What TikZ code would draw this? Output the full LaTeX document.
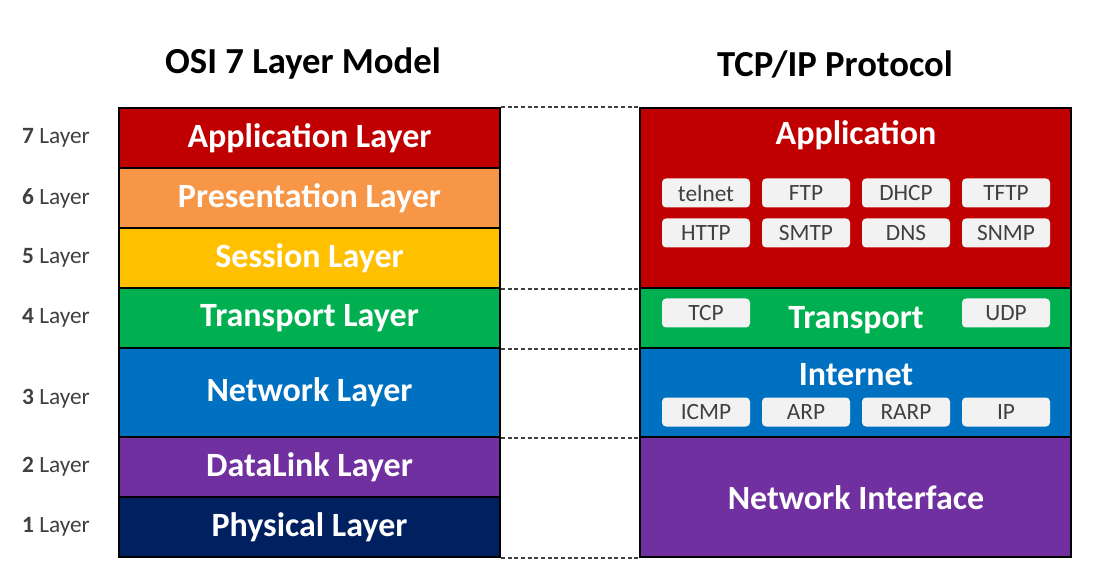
\documentclass[tikz,border=0pt]{standalone}
\usepackage{fontspec}
\setmainfont{Carlito}
\definecolor{cApp}{HTML}{C00000}
\definecolor{cPre}{HTML}{F79646}
\definecolor{cSes}{HTML}{FFC000}
\definecolor{cTra}{HTML}{00B050}
\definecolor{cNet}{HTML}{0070C0}
\definecolor{cDat}{HTML}{7030A0}
\definecolor{cPhy}{HTML}{002060}
\definecolor{cTag}{HTML}{F2F2F2}
\definecolor{cTagText}{HTML}{404040}
\definecolor{cLabel}{HTML}{404040}
\tikzset{
  layerbox/.style={draw=black, line width=1.5pt, inner sep=0pt, minimum width=285.75pt, text=white, font=\fontsize{25.5}{28}\selectfont\bfseries},
  tcpbox/.style={draw=black, line width=1.5pt, inner sep=0pt, minimum width=323.25pt},
  boxtitle/.style={text=white, inner sep=0pt, font=\fontsize{25.5}{28}\selectfont\bfseries},
  tag/.style={fill=cTag, rounded corners=3pt, minimum width=66pt, minimum height=21.75pt, inner sep=0pt, text=cTagText, font=\fontsize{17.5}{20}\selectfont},
  lbl/.style={text=cLabel, inner sep=0pt, font=\fontsize{17.5}{20}\selectfont},
  title/.style={text=black, inner sep=0pt, font=\fontsize{27.5}{30}\selectfont\bfseries},
  gap/.style={draw=black!75, line width=0.9pt, dash pattern=on 3pt off 2pt}
}
\begin{document}
\begin{tikzpicture}[x=0.75pt, y=-0.75pt]
\useasboundingbox[fill=white] (0,0) rectangle (1096,577);
% titles
\node[title] (t1) at (303,64) {OSI 7 Layer Model};
\node[title] (t2) at (835,64) {TCP/IP Protocol};
% OSI layers
\node[layerbox, fill=cApp, minimum height=45pt] (L7) at (309.5,138) {Application Layer};
\node[layerbox, fill=cPre, minimum height=45pt] (L6) at (309.5,198) {Presentation Layer};
\node[layerbox, fill=cSes, minimum height=45pt] (L5) at (309.5,258) {Session Layer};
\node[layerbox, fill=cTra, minimum height=45pt] (L4) at (309.5,318) {Transport Layer};
\node[layerbox, fill=cNet, minimum height=66.75pt] (L3) at (309.5,392.5) {Network Layer};
\node[layerbox, fill=cDat, minimum height=45pt] (L2) at (309.5,467) {DataLink Layer};
\node[layerbox, fill=cPhy, minimum height=45pt] (L1) at (309.5,527) {Physical Layer};
% layer numbers
\node[lbl] (n7) at (56,138) {\textbf{7} Layer};
\node[lbl] (n6) at (56,198) {\textbf{6} Layer};
\node[lbl] (n5) at (56,258) {\textbf{5} Layer};
\node[lbl] (n4) at (56,318) {\textbf{4} Layer};
\node[lbl] (n3) at (56,399) {\textbf{3} Layer};
\node[lbl] (n2) at (56,467) {\textbf{2} Layer};
\node[lbl] (n1) at (56,527) {\textbf{1} Layer};
% TCP/IP boxes
\node[tcpbox, fill=cApp, minimum height=135pt] (RA) at (855.5,198) {};
\node[tcpbox, fill=cTra, minimum height=45pt] (RT) at (855.5,318) {};
\node[tcpbox, fill=cNet, minimum height=66.75pt] (RI) at (855.5,392.5) {};
\node[tcpbox, fill=cDat, minimum height=90pt] (RN) at (855.5,497) {};
\node[boxtitle] (RAt) at (856,135) {Application};
\node[boxtitle] (RTt) at (856,320) {Transport};
\node[boxtitle] (RIt) at (856,375) {Internet};
\node[boxtitle] (RNt) at (856,498) {Network Interface};
% tags
\node[tag] (telnet) at (706,193) {telnet};
\node[tag] (ftp) at (806,193) {FTP};
\node[tag] (dhcp) at (906,193) {DHCP};
\node[tag] (tftp) at (1006,193) {TFTP};
\node[tag] (http) at (706,233) {HTTP};
\node[tag] (smtp) at (806,233) {SMTP};
\node[tag] (dns) at (906,233) {DNS};
\node[tag] (snmp) at (1006,233) {SNMP};
\node[tag] (tcp) at (706,313) {TCP};
\node[tag] (udp) at (1006,313) {UDP};
\node[tag] (icmp) at (706,412) {ICMP};
\node[tag] (arp) at (806,412) {ARP};
\node[tag] (rarp) at (906,412) {RARP};
\node[tag] (ip) at (1006,412) {IP};
% dashed correspondences
\draw[gap] (L7.north east) -- (RA.north west);
\draw[gap] (L5.south east) -- (RA.south west);
\draw[gap] (L4.south east) -- (RT.south west);
\draw[gap] (L3.south east) -- (RI.south west);
\draw[gap] (L1.south east) -- (RN.south west);
\end{tikzpicture}
\end{document}
